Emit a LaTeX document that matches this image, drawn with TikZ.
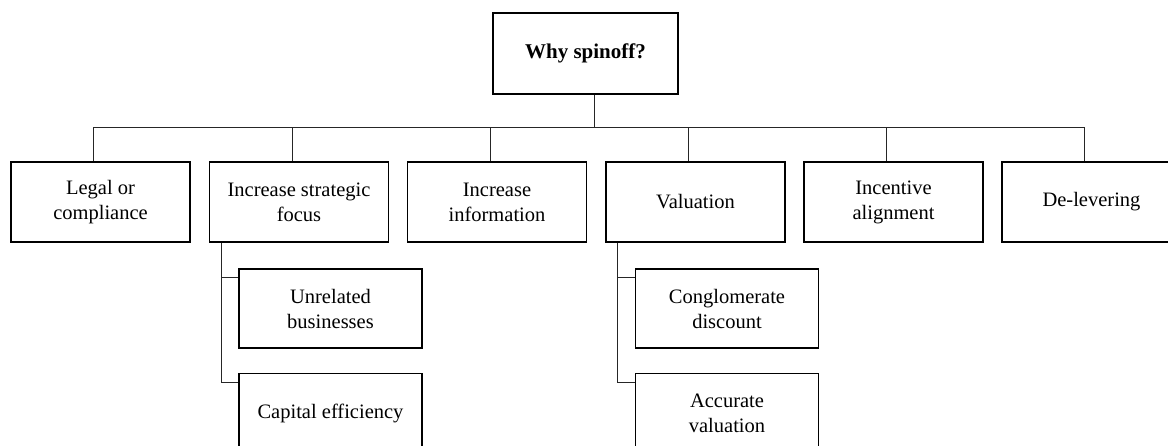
\documentclass[tikz,border=0pt]{standalone}
\usepackage{fontspec}
\setmainfont{Liberation Serif}
\begin{document}
\begin{tikzpicture}[x=1pt,y=-1pt,
  box/.style={draw=black,line width=1.7pt,minimum width=179pt,minimum height=80pt,
    align=center,inner sep=0pt,font=\fontsize{20.5}{25}\selectfont},
  subbox/.style={box,minimum width=183pt,minimum height=79pt},
  topbox/.style={box,minimum width=185pt,minimum height=81pt,font=\fontsize{21}{25}\selectfont\bfseries},
  conn/.style={draw=black!85,line width=0.9pt}]
\useasboundingbox (0,0) rectangle (1168,445);
\clip (0,0) rectangle (1168,445);
\node[topbox] (top) at (585.5,53.5) {Why spinoff?};
\node[box] (leg) at (100.5,202) {Legal or\\compliance};
\node[box] (str) at (299,202) {Increase strategic\\focus};
\node[box] (inf) at (497,202) {Increase\\information};
\node[box] (val) at (695.5,202) {Valuation};
\node[box] (inc) at (893.5,202) {Incentive\\alignment};
\node[box] (del) at (1091.5,202) {De-levering};
\node[subbox] (unr) at (330.5,308.5) {Unrelated\\businesses};
\node[subbox] (cap) at (330.5,413) {Capital efficiency};
\node[subbox] (con) at (727,308.5) {Conglomerate\\discount};
\node[subbox] (acc) at (727,413) {Accurate\\valuation};
\coordinate (bus) at (594,127);
\coordinate (busL) at (93,127);
\coordinate (busR) at (1084,127);
\path[conn] ([xshift=8.5pt]top.south) -- (bus);
\path[conn] ([xshift=-7.5pt]leg.north) -- (busL) -- (busR) -- ([xshift=-7.5pt]del.north);
\foreach \n in {str,inf,val,inc}{
  \path[conn] ([xshift=-7pt]\n.north) -- ([xshift=-7pt]\n.north |- bus);
}
\coordinate (sa) at ([xshift=13pt]str.south west);
\coordinate (ua) at ([yshift=-9pt]unr.north west);
\coordinate (ca) at ([yshift=-10pt]cap.north west);
\coordinate (va) at ([xshift=12pt]val.south west);
\coordinate (na) at ([yshift=-9pt]con.north west);
\coordinate (aa) at ([yshift=-10pt]acc.north west);
\path[conn] (sa) |- (ca);
\path[conn] (sa |- ua) -- (ua);
\path[conn] (va) |- (aa);
\path[conn] (va |- na) -- (na);
\end{tikzpicture}
\end{document}
